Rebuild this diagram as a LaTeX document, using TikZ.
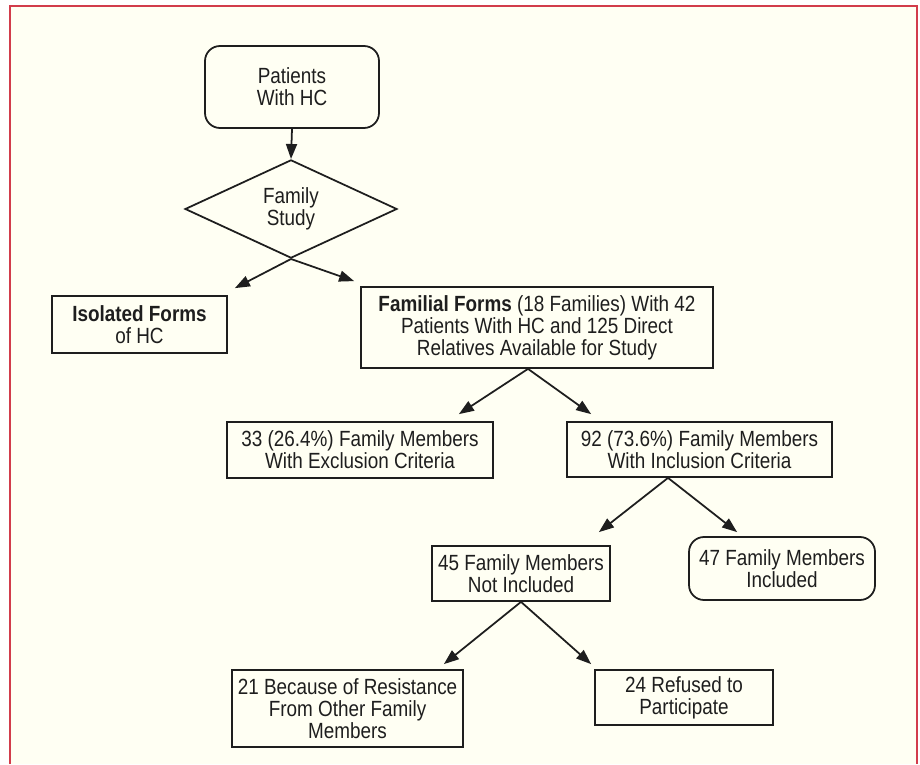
\documentclass[tikz,border=0pt]{standalone}
\usepackage{fontspec}
\setmainfont[FakeStretch=0.86]{Liberation Sans}
\usepackage{xcolor}
\definecolor{paper}{HTML}{FFFFF3}
\definecolor{frame}{HTML}{D23C4B}
\definecolor{ink}{HTML}{1E1E1E}
\usetikzlibrary{arrows.meta}
\usetikzlibrary{shapes.geometric}

\begin{document}
\begin{tikzpicture}[
    box/.style={draw=ink, line width=1pt, fill=paper, align=center, inner sep=0pt,
      font=\fontsize{12.5}{12.6}\selectfont, text=ink},
    rbox/.style={box, rounded corners=0.3cm},
    arr/.style={draw=ink, line width=1pt, -{Triangle[length=0.3cm,width=0.22cm]}}
  ] % Flow chart

      % page and frame
      \useasboundingbox (0, 0) rectangle (18.4, -15.28);
      \fill [paper] (0.2, -0.12) rectangle (18.34, -15.28);
      \draw [frame, line width=0.8pt] (0.2, -15.28) -- (0.2, -0.12)
      -- (18.34, -0.12) -- (18.34, -15.28);

      \node [rbox, minimum width=3.48cm, minimum height=1.64cm]
      (patients) at (5.84, -1.74) {Patients\\With HC};

      \node [box, diamond, minimum width=4.24cm, minimum height=1.82cm]
      (study) at (5.82, -4.18) {Family\\Study};

      \node [box, minimum width=3.5cm, minimum height=1.14cm]
      (isolated) at (2.79, -6.49) {\textbf{Isolated Forms}\\of HC};

      \node [box, minimum width=7.04cm, minimum height=1.62cm]
      (familial) at (10.74, -6.55)
      {\textbf{Familial Forms} (18 Families) With 42\\Patients With HC and 125 Direct\\Relatives Available for Study};

      \node [box, minimum width=5.32cm, minimum height=1.12cm]
      (exclusion) at (7.2, -9.0) {33 (26.4\%) Family Members\\With Exclusion Criteria};

      \node [box, minimum width=5.3cm, minimum height=1.1cm]
      (inclusion) at (13.99, -8.99) {92 (73.6\%) Family Members\\With Inclusion Criteria};

      \node [box, minimum width=3.56cm, minimum height=1.1cm]
      (notincl) at (10.42, -11.47) {45 Family Members\\Not Included};

      \node [rbox, minimum width=3.72cm, minimum height=1.26cm]
      (included) at (15.64, -11.37) {47 Family Members\\Included};

      \node [box, minimum width=4.62cm, minimum height=1.54cm]
      (resistance) at (6.95, -14.17)
      {21 Because of Resistance\\From Other Family\\Members};

      \node [box, minimum width=3.56cm, minimum height=1.1cm]
      (refused) at (13.68, -13.95) {24 Refused to\\Participate};

      % connectors
      \draw [arr] (patients.south) -- (study.north);
      \draw [arr] (study.south) -- ([xshift=0.14cm, yshift=0.14cm]isolated.north east);
      \draw [arr] (study.south) -- ([xshift=-0.12cm, yshift=0.1cm]familial.north west);

      \draw [arr] ([xshift=-0.18cm]familial.south)
      -- ([xshift=-0.7cm, yshift=0.14cm]exclusion.north east);
      \draw [arr] ([xshift=-0.18cm]familial.south)
      -- ([xshift=0.5cm, yshift=0.14cm]inclusion.north west);

      \draw [arr] ([xshift=-0.63cm]inclusion.south)
      -- ([xshift=-0.24cm, yshift=0.26cm]notincl.north east);
      \draw [arr] ([xshift=-0.63cm]inclusion.south)
      -- ([xshift=0.98cm, yshift=0.08cm]included.north west);

      \draw [arr] (notincl.south)
      -- ([xshift=-0.4cm, yshift=0.1cm]resistance.north east);
      \draw [arr] (notincl.south)
      -- ([xshift=-0.06cm, yshift=0.1cm]refused.north west);

    \end{tikzpicture}
\end{document}
